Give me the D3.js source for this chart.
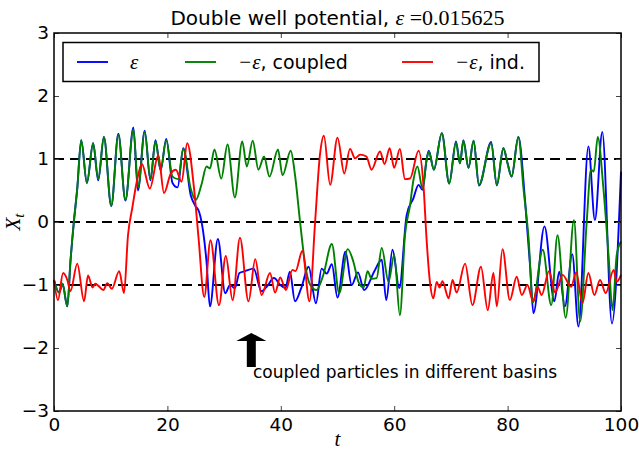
<!DOCTYPE html>
<html>
<head>
<meta charset="utf-8">
<script src="https://cdn.jsdelivr.net/npm/d3@7"></script>
<style>
  body { margin: 0; background: #fff; }
  svg text { font-family: "DejaVu Sans", sans-serif; }
</style>
</head>
<body>
<svg id="chart" width="639" height="452"></svg>
<script>
// [t, X_t] pairs
const epsSeries = [[0,-0.92],[0.9,-1.12],[1.5,-0.98],[2.35,-1.34],[2.9,-0.63],[3.5,0],[4.1,0.53],[4.8,1.30],[5.8,0.62],[6.9,1.25],[7.8,0.66],[8.8,1.35],[10.1,0.25],[11.35,1.40],[12.6,0.34],[14.0,1.50],[14.8,0.50],[16.0,1.45],[17.0,0.66],[17.9,1.30],[18.8,0.82],[19.8,1.32],[20.9,0.62],[21.8,0.55],[22.8,1.17],[24.1,0.43],[24.9,0.26],[25.6,0.16],[26.3,-0.15],[26.9,-0.63],[27.5,-1.34],[28.9,-0.27],[30.2,-1.13],[31.05,-1.0],[31.9,-1.05],[32.7,-0.81],[33.7,-0.78],[35.2,-0.74],[36.6,-1.1],[37.5,-1.03],[38.8,-0.89],[39.9,-1.0],[40.8,-1.05],[41.6,-0.79],[42.5,-1.26],[43.6,-1.05],[44.9,-0.71],[46.2,-1.29],[47.2,-0.74],[48.1,-0.82],[49.0,-0.67],[50.0,-1.20],[51.4,-0.47],[52.5,-1.0],[53.6,-0.80],[54.7,-1.08],[56.5,-0.78],[57.8,-0.60],[58.6,-1.24],[59.7,-0.44],[60.9,-1.05],[62.2,0.11],[63.4,0.38],[64.3,0.59],[65.0,0.51],[65.7,0.98],[66.1,1.13],[67.0,0.83],[68.4,1.41],[69.7,0.61],[70.9,1.28],[71.6,0.93],[72.2,1.30],[73.1,0.86],[74.0,1.29],[74.95,0.58],[77.1,1.27],[78.1,0.58],[79.25,1.17],[80.0,0.93],[80.7,0.72],[81.9,1.35],[83.1,0.32],[84.0,-0.74],[84.55,-1.45],[86.5,-0.07],[88.25,-1.26],[89.1,-0.79],[90.1,-1.34],[91.4,-0.51],[92.5,-1.66],[94.25,1.20],[95.4,0.03],[96.7,1.43],[98.4,-1.61],[100,0.80]];

const coupledSeries = [[0,-0.92],[0.9,-1.12],[1.5,-0.98],[2.35,-1.34],[2.9,-0.63],[3.5,0],[4.1,0.53],[4.8,1.30],[5.8,0.62],[6.9,1.25],[7.8,0.68],[8.8,1.35],[10.1,0.26],[11.35,1.38],[12.6,0.35],[14.0,1.47],[14.85,0.55],[16.0,1.43],[17.0,0.68],[17.9,1.28],[18.8,0.83],[19.8,1.30],[20.9,0.72],[21.9,0.68],[22.8,1.16],[24.1,0.53],[25.0,0.35],[26.0,0.59],[26.9,0.88],[27.5,0.85],[28.3,1.15],[29.5,0.69],[30.6,1.23],[31.9,0.39],[33.2,1.28],[34.0,0.88],[35.05,1.29],[36.05,0.83],[37.05,1.04],[38.0,0.72],[39.5,1.15],[40.3,0.74],[41.75,1.13],[42.5,0.75],[43.4,0],[44.3,-0.68],[45.2,-1.0],[46.3,-1.08],[47.5,-0.84],[49.0,-0.35],[50.3,-1.13],[51.8,-0.43],[52.8,-0.63],[53.7,-0.95],[54.6,-1.04],[55.3,-0.78],[56.0,-0.90],[56.9,-0.89],[57.8,-0.41],[59.0,-0.95],[60.0,-0.52],[61.0,-1.48],[61.9,-0.21],[62.8,0.27],[63.4,0.67],[64.1,0.88],[65.0,0.53],[65.7,0.98],[66.1,1.12],[67.0,0.83],[68.4,1.41],[69.7,0.61],[70.9,1.26],[71.6,0.93],[72.2,1.29],[73.1,0.86],[74.0,1.29],[74.95,0.59],[77.1,1.25],[78.1,0.59],[79.25,1.17],[80.0,0.93],[80.7,0.72],[81.9,1.35],[82.8,0.53],[83.7,-0.26],[84.45,-1.28],[86.2,-0.44],[87.7,-1.32],[88.8,-0.21],[90.25,-1.52],[91.7,0.03],[92.8,-1.58],[93.95,0],[94.7,0.83],[95.2,0.80],[95.9,1.35],[96.9,0.53],[97.8,-0.52],[98.5,-1.40],[99.25,-0.52],[100,-0.31]];

const indSeries = [[0,-0.92],[0.7,-1.24],[1.6,-0.81],[2.35,-0.92],[2.9,-1.10],[4.1,-0.66],[5.3,-1.26],[6.0,-0.85],[6.8,-1.04],[7.3,-0.98],[7.8,-1.01],[8.7,-1.08],[9.4,-0.97],[10.2,-1.06],[11.5,-0.78],[12.35,-1.13],[13.05,-0.21],[13.8,0.22],[14.6,0.64],[15.5,0.92],[16.9,0.53],[18.4,1.06],[19.4,0.46],[20.6,0.77],[21.5,0.83],[22.5,0.64],[23.5,1.25],[24.7,0.53],[25.5,-0.26],[26.5,-1.19],[27.6,-0.29],[29.1,-1.32],[30.3,-0.54],[31.5,-1.24],[32.8,-0.25],[34.3,-1.26],[35.5,-0.59],[36.6,-1.16],[38.1,-0.81],[39.0,-1.12],[39.9,-0.88],[40.9,-1.08],[42.05,-0.76],[42.6,-0.78],[43.8,-0.46],[45.05,-1.26],[46.05,0],[46.9,1.06],[47.6,1.37],[48.7,0.59],[50.0,1.34],[51.2,0.77],[52.2,1.16],[53.1,1.01],[54.0,1.07],[55.1,1.04],[56.0,0.83],[57.5,1.12],[58.3,0.92],[59.2,1.17],[60.0,0.86],[61.0,1.16],[61.9,0.68],[62.8,0.69],[64.3,1.13],[65.2,0.53],[65.7,-0.26],[66.3,-0.95],[66.9,-1.21],[67.5,-0.95],[68.0,-1.04],[68.5,-0.94],[69.6,-1.21],[70.3,-0.92],[71.0,-1.12],[72.5,-0.66],[73.8,-1.32],[75.3,-0.71],[76.5,-1.40],[77.5,-0.81],[78.1,-1.34],[79.1,-0.43],[80.4,-1.24],[81.6,-0.87],[82.5,-1.16],[83.5,-1.0],[84.5,-1.26],[85.3,-1.03],[86.0,-1.16],[87.3,-0.78],[88.4,-1.12],[89.7,-0.84],[91.2,-1.03],[92.1,-0.80],[93.2,-1.29],[94.25,-0.81],[95.3,-1.16],[96.3,-0.92],[97.3,-1.13],[98.7,-0.76],[99.25,-0.95],[100,-0.84]];

const xTicks = [0, 20, 40, 60, 80, 100];
const yTicks = [-3, -2, -1, 0, 1, 2, 3];
const wellLevels = [-1, 0, 1];
const epsilon = "0.015625";

// annotation: arrow from (t, X) tail to head, text below
const arrowT = 34.8;
const arrowFrom = -2.3;
const arrowTo = -1.76;
const noteT = 35.1;
const noteX = -2.48;
const noteText = "coupled particles in different basins";

const margin = { top: 33, right: 18, bottom: 41, left: 54 };
const width = 639;
const height = 452;
const innerW = width - margin.left - margin.right;
const innerH = height - margin.top - margin.bottom;

const svg = d3.select("#chart");
const g = svg.append("g").attr("transform", `translate(${margin.left},${margin.top})`);

const x = d3.scaleLinear().domain([0, 100]).range([0, innerW]);
const y = d3.scaleLinear().domain([-3, 3]).range([innerH, 0]);

// dashed well lines
g.selectAll(".well")
  .data(wellLevels)
  .enter()
  .append("line")
  .attr("x1", 0)
  .attr("x2", innerW)
  .attr("y1", (d) => y(d))
  .attr("y2", (d) => y(d))
  .attr("stroke", "#000")
  .attr("stroke-width", 2)
  .attr("stroke-dasharray", "10,6");

const line = d3
  .line()
  .x((d) => x(d[0]))
  .y((d) => y(d[1]))
  .curve(d3.curveMonotoneX);

const series = [
  { data: epsSeries, color: "#0000ff" },
  { data: coupledSeries, color: "#008000" },
  { data: indSeries, color: "#ff0000" },
];

g.selectAll(".series")
  .data(series)
  .enter()
  .append("path")
  .attr("d", (d) => line(d.data))
  .attr("fill", "none")
  .attr("stroke", (d) => d.color)
  .attr("stroke-width", 1.9)
  .attr("stroke-linejoin", "round");

// axes, ticks inward on all four sides
const fmt = (d) => d3.format("d")(d);

const axBottom = g.append("g")
  .attr("transform", `translate(0,${innerH})`)
  .call(d3.axisBottom(x).tickValues(xTicks).tickSize(-5).tickPadding(7).tickFormat(fmt));
const axLeft = g.append("g")
  .call(d3.axisLeft(y).tickValues(yTicks).tickSize(-5).tickPadding(5).tickFormat(fmt));
const axTop = g.append("g")
  .call(d3.axisTop(x).tickValues(xTicks).tickSize(-5).tickFormat(""));
const axRight = g.append("g")
  .attr("transform", `translate(${innerW},0)`)
  .call(d3.axisRight(y).tickValues(yTicks).tickSize(-5).tickFormat(""));

[axBottom, axLeft, axTop, axRight].forEach((a) => {
  a.select(".domain").remove();
  a.selectAll(".tick line").attr("stroke", "#444").attr("stroke-width", 1);
  a.selectAll("text")
    .attr("fill", "#000")
    .style("font-family", "DejaVu Sans")
    .style("font-size", "18.5px");
});

g.append("rect")
  .attr("width", innerW)
  .attr("height", innerH)
  .attr("fill", "none")
  .attr("stroke", "#000")
  .attr("stroke-width", 1.5);

// annotation arrow
const ax = x(arrowT);
const ay0 = y(arrowFrom);
const ay1 = y(arrowTo);
const shaftW = 4.5;
const headW = 15;
const headL = 8;
g.append("path")
  .attr("d", `M${ax - shaftW},${ay0} L${ax - shaftW},${ay1 + headL} L${ax - headW},${ay1 + headL} L${ax},${ay1} L${ax + headW},${ay1 + headL} L${ax + shaftW},${ay1 + headL} L${ax + shaftW},${ay0} Z`)
  .attr("fill", "#000");

g.append("text")
  .attr("x", x(noteT))
  .attr("y", y(noteX))
  .style("font-size", "17px")
  .text(noteText);

// legend
const legend = svg.append("g");
legend.append("rect")
  .attr("x", 63).attr("y", 42.5)
  .attr("width", 476).attr("height", 39)
  .attr("fill", "#fff")
  .attr("stroke", "#000")
  .attr("stroke-width", 1.5);

const legendItems = [
  { color: "#0000ff", x: 77, math: "ε", post: "" },
  { color: "#008000", x: 185, math: "−ε", post: ", coupled" },
  { color: "#ff0000", x: 402, math: "−ε", post: ", ind." },
];

legendItems.forEach((it) => {
  legend.append("line")
    .attr("x1", it.x).attr("x2", it.x + 31)
    .attr("y1", 62).attr("y2", 62)
    .attr("stroke", it.color)
    .attr("stroke-width", 1.9);
  const t = legend.append("text")
    .attr("x", it.x + 53)
    .attr("y", 69)
    .style("font-size", "19px");
  t.append("tspan")
    .style("font-family", "Liberation Serif")
    .style("font-style", "italic")
    .style("font-size", "21px")
    .text(it.math);
  t.append("tspan").text(it.post);
});

// title
const title = svg.append("text")
  .attr("x", margin.left + innerW / 2)
  .attr("y", 25)
  .attr("text-anchor", "middle")
  .style("font-size", "20px");
title.append("tspan").text("Double well potential, ");
title.append("tspan")
  .style("font-family", "Liberation Serif")
  .style("font-style", "italic")
  .style("font-size", "22px")
  .text("ε");
title.append("tspan")
  .style("font-family", "Liberation Serif")
  .style("font-size", "22px")
  .text(" =" + epsilon);

// axis labels
svg.append("text")
  .attr("x", margin.left + innerW / 2)
  .attr("y", 446)
  .attr("text-anchor", "middle")
  .style("font-family", "Liberation Serif")
  .style("font-style", "italic")
  .style("font-size", "21px")
  .text("t");

const yl = svg.append("text")
  .attr("transform", `translate(20,${margin.top + innerH / 2}) rotate(-90)`)
  .attr("text-anchor", "middle")
  .style("font-family", "Liberation Serif")
  .style("font-style", "italic")
  .style("font-size", "21px");
yl.append("tspan").text("X");
yl.append("tspan").attr("dy", 4).style("font-size", "15px").text("t");
</script>
</body>
</html>
